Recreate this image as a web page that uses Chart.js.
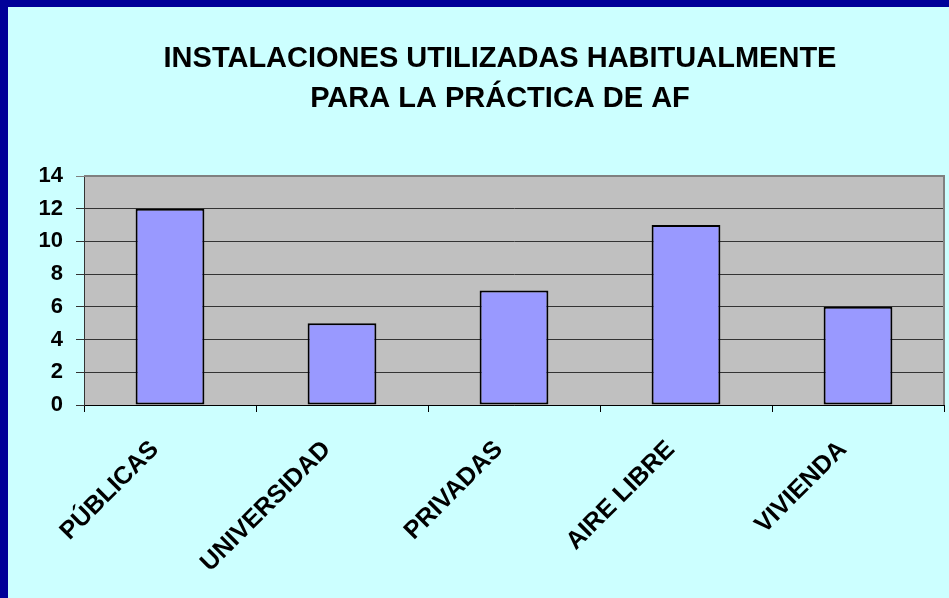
<!DOCTYPE html>
<html>
<head>
<meta charset="utf-8">
<script src="https://cdn.jsdelivr.net/npm/chart.js@4.4.1/dist/chart.umd.min.js"></script>
<style>
  html, body { margin: 0; padding: 0; }
  #frame {
    position: relative; width: 949px; height: 598px; box-sizing: border-box;
    background: #CCFFFF; border-left: 8px solid #000099; border-top: 7px solid #000099;
  }
  #c { position: absolute; left: 0; top: 0; }
  #wrap { position: absolute; left: -8px; top: -7px; width: 949px; height: 598px; }
</style>
</head>
<body>
<div id="frame"><div id="wrap"><canvas id="c" width="949" height="598"></canvas></div></div>
<script>
const titleLines = ["INSTALACIONES UTILIZADAS HABITUALMENTE", "PARA LA PRÁCTICA DE AF"];
const categories = ["PÚBLICAS", "UNIVERSIDAD", "PRIVADAS", "AIRE LIBRE", "VIVIENDA"];
const values = [12, 5, 7, 11, 6];
const yTicks = [0, 2, 4, 6, 8, 10, 12, 14];

const plotBg = {
  id: 'plotBg',
  beforeDraw(chart) {
    // shift the title block so it is centred like the reference
    const t = chart.titleBlock;
    if (t) { t.left = 51; t.right = 949; t.width = 898; }
    const {ctx, chartArea: a} = chart;
    ctx.save();
    ctx.fillStyle = '#C0C0C0';
    ctx.fillRect(a.left, a.top, a.right - a.left, a.bottom - a.top);
    ctx.restore();
  },
  afterDatasetsDraw(chart) {
    const {ctx, chartArea: a} = chart;
    ctx.save();
    ctx.strokeStyle = '#808080';
    ctx.lineWidth = 2;
    ctx.beginPath();
    ctx.moveTo(a.left, a.top);
    ctx.lineTo(a.right, a.top);
    ctx.lineTo(a.right, a.bottom);
    ctx.stroke();
    ctx.restore();
  }
};

new Chart(document.getElementById('c'), {
  type: 'bar',
  data: {
    labels: categories,
    datasets: [{
      data: values,
      backgroundColor: '#9999FF',
      borderColor: '#000000',
      borderWidth: 2,
      borderSkipped: false,
      categoryPercentage: 1,
      barPercentage: 0.4
    }]
  },
  options: {
    responsive: false,
    animation: false,
    devicePixelRatio: 1,
    layout: { padding: { left: 0, right: 5, top: 0, bottom: 0 } },
    plugins: {
      legend: { display: false },
      tooltip: { enabled: false },
      title: {
        display: true,
        text: titleLines,
        color: '#000000',
        font: { family: 'Liberation Sans, Arial, sans-serif', size: 29, weight: 'bold', lineHeight: 40 / 29 },
        padding: { top: 39, bottom: 57 }
      }
    },
    scales: {
      x: {
        offset: true,
        grid: { display: true, drawOnChartArea: false, drawTicks: true, tickLength: 7, color: '#000000', offset: true },
        border: { display: true, color: '#000000', width: 1 },
        ticks: {
          color: '#000000',
          maxRotation: 45, minRotation: 45,
          padding: 23,
          labelOffset: -15,
          font: { family: 'Liberation Sans, Arial, sans-serif', size: 25, weight: 'bold' }
        },
        afterFit(s) { s.height = 193; }
      },
      y: {
        min: 0, max: 14,
        afterBuildTicks(s) { s.ticks = yTicks.map(v => ({ value: v })); },
        grid: {
          color: (c) => (c.tick && c.tick.value === 14) ? '#808080' : '#333333',
          tickLength: 8,
          lineWidth: 1
        },
        border: { display: true, color: '#333333', width: 1 },
        ticks: {
          color: '#000000',
          padding: 13,
          font: { family: 'Liberation Sans, Arial, sans-serif', size: 22, weight: 'bold' }
        },
        afterFit(s) { s.width = 84; }
      }
    }
  },
  plugins: [plotBg]
});
</script>
</body>
</html>
